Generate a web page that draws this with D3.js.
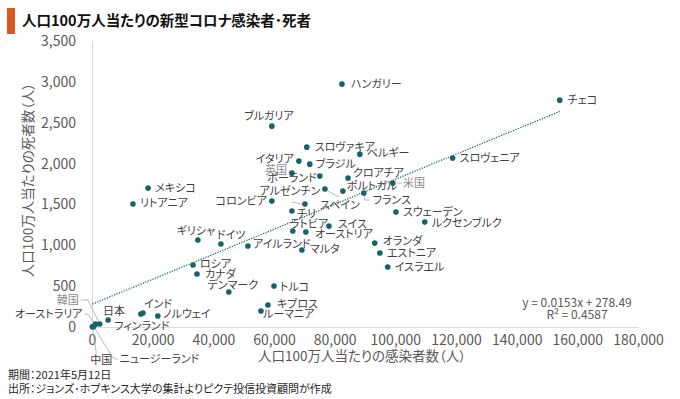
<!DOCTYPE html>
<html lang="ja">
<head>
<meta charset="UTF-8">
<title>人口100万人当たりの新型コロナ感染者・死者</title>
<script src="https://cdn.jsdelivr.net/npm/d3@7"></script>
<style>
	body { margin: 0; background: #fff; }
	svg { font-family: "Noto Sans CJK JP", sans-serif; font-feature-settings: "palt" 1; }
	.axis path { stroke: #d9d9d9; }
	.axis text { fill: #595959; font-size: 14px; font-family: "Noto Sans CJK JP", sans-serif; }
	.lbl { font-size: 11px; fill: #404040; }
	.lbl.grey { fill: #8c8c8c; }
	.leader { stroke: #a6a6a6; fill: none; stroke-width: 0.8; }
</style>
</head>
<body>
<div id="chart"></div>
<script>
	const width = 680,
		height = 399;

	const countries = ['チェコ', 'ハンガリー', 'ブルガリア', 'スロヴァキア', 'ベルギー', 'イタリア', 'ブラジル',
		'スロヴェニア', '英国', 'ポーランド', 'クロアチア', '米国', 'スペイン', 'ポルトガル', 'フランス',
		'アルゼンチン', 'コロンビア', 'チリ', 'スウェーデン', 'ルクセンブルク', 'スイス', 'ラトビア',
		'オーストリア', 'アイルランド', 'マルタ', 'ドイツ', 'ギリシャ', 'オランダ', 'エストニア', 'イスラエル',
		'メキシコ', 'リトアニア', 'ロシア', 'カナダ', 'デンマーク', 'トルコ', 'キプロス', 'ルーマニア',
		'インド', 'フィンランド', 'ノルウェイ', '日本', '韓国', 'オーストラリア', '中国', 'ニュージーランド'];
	// 人口100万人当たりの感染者数
	const infected = [154200, 82400, 59300, 70800, 88300, 68200, 71800,
		118900, 65900, 75100, 84400, 99200, 76800, 82700, 89600,
		70200, 59300, 65900, 100200, 109700, 78100, 66200,
		70500, 51400, 69200, 42500, 34900, 93200, 94900, 97500,
		18500, 13500, 33300, 34600, 45100, 60000, 58000, 55700,
		16800, 16100, 21700, 5300, 2550, 1150, 100, 550];
	// 人口100万人当たりの死者数
	const deaths = [2776, 2972, 2458, 2201, 2115, 2030, 1993,
		2067, 1883, 1847, 1822, 1761, 1688, 1663, 1639,
		1504, 1541, 1419, 1406, 1284, 1235, 1174,
		1162, 991, 942, 1015, 1064, 1027, 905, 734,
		1700, 1504, 758, 648, 428, 501, 269, 196,
		171, 159, 135, 86, 37, 35, 3, 5];

	const xTicks = [0, 20000, 40000, 60000, 80000, 100000, 120000, 140000, 160000, 180000];
	const yTicks = [0, 500, 1000, 1500, 2000, 2500, 3000, 3500];
	const slope = 0.0153,
		intercept = 278.49,
		r2 = 0.4587;

	// label placement relative to the dot: [dx, dy, anchor]
	const labelAt = {
		'チェコ': [8, 0, 'start'], 'ハンガリー': [9, 0, 'start'], 'ブルガリア': [-3, -10, 'middle'],
		'スロヴァキア': [8, 0, 'start'], 'ベルギー': [7, -1, 'start'], 'イタリア': [-5, -2, 'end'],
		'ブラジル': [6, 0, 'start'], 'スロヴェニア': [7, 0, 'start'], '英国': [-5, -3, 'end'],
		'ポーランド': [-3, 2, 'end'], 'クロアチア': [5, -5, 'start'], '米国': [10, 0, 'start'],
		'スペイン': [15, 16, 'middle'], 'ポルトガル': [4, -5, 'start'], 'フランス': [9, 7, 'start'],
		'アルゼンチン': [-15, -13, 'middle'], 'コロンビア': [-5, 0, 'end'], 'チリ': [5, 3, 'start'],
		'スウェーデン': [7, 0, 'start'], 'ルクセンブルク': [7, 1, 'start'], 'スイス': [9, -2, 'start'],
		'ラトビア': [-3, -7, 'start'], 'オーストリア': [9, 2, 'start'], 'アイルランド': [5, -2, 'start'],
		'マルタ': [8, -1, 'start'], 'ドイツ': [-4, -9, 'start'], 'ギリシャ': [-2, -9, 'middle'],
		'オランダ': [8, -2, 'start'], 'エストニア': [7, 0, 'start'], 'イスラエル': [7, 0, 'start'],
		'メキシコ': [7, 0, 'start'], 'リトアニア': [7, -1, 'start'], 'ロシア': [7, -1, 'start'],
		'カナダ': [8, 0, 'start'], 'デンマーク': [4, -7, 'middle'], 'トルコ': [6, 1, 'start'],
		'キプロス': [9, -1, 'start'], 'ルーマニア': [2, 3, 'start'], 'インド': [1, -9, 'start'],
		'フィンランド': [1, 12, 'middle'], 'ノルウェイ': [5, -2, 'start'], '日本': [-5, -9, 'start'],
		'韓国': [-21, -24, 'end'], 'オーストラリア': [-13, -10, 'end'], '中国': [-2, 33, 'start'],
		'ニュージーランド': [26, 33, 'start']
	};
	// leader lines, relative to the dot
	const leaders = {
		'米国': [[4, 0], [9, 0]],
		'フランス': [[1, 3], [1, 7], [6, 7]],
		'スペイン': [[3, 2], [14, 8]],
		'アルゼンチン': [[-3, 0], [-13, -2]],
		'韓国': [[0, 0], [-12, -24], [-19, -24]],
		'オーストラリア': [[0, 0], [-8, -10], [-11, -10]],
		'中国': [[0, 0], [4, 26]],
		'ニュージーランド': [[0, 0], [19, 31], [24, 33]]
	};
	const greyLabels = ['英国', '米国', '韓国'];

	const data = countries.map((c, i) => ({ name: c, x: infected[i], y: deaths[i] }));

	const x = d3.scaleLinear()
		.domain([0, 180000])
		.range([92, 638]);
	const y = d3.scaleLinear()
		.domain([0, 3500])
		.range([327, 41]);

	const svg = d3.select('#chart')
		.append('svg')
		.attr('width', width)
		.attr('height', height);

	svg.append('rect')
		.attr('width', width)
		.attr('height', height)
		.attr('fill', '#fff');

	// title
	svg.append('rect')
		.attr('x', 7)
		.attr('y', 8)
		.attr('width', 8)
		.attr('height', 26)
		.attr('fill', '#d95a1e');
	svg.append('text')
		.attr('x', 22)
		.attr('y', 26)
		.attr('font-size', 14.5)
		.attr('font-weight', 'bold')
		.attr('fill', '#111')
		.text('人口100万人当たりの新型コロナ感染者･死者');

	// axes
	const fmt = d3.format(',');
	svg.append('g')
		.attr('class', 'axis')
		.attr('transform', 'translate(92,0)')
		.call(d3.axisLeft(y).tickValues(yTicks).tickSize(0).tickPadding(16).tickFormat(fmt));
	svg.append('g')
		.attr('class', 'axis')
		.attr('transform', 'translate(0,327)')
		.call(d3.axisBottom(x).tickValues(xTicks).tickSize(0).tickPadding(8).tickFormat(fmt));

	svg.append('text')
		.attr('transform', 'translate(28,180) rotate(-90)')
		.attr('text-anchor', 'middle')
		.attr('dy', '0.35em')
		.attr('font-size', 13.5)
		.attr('fill', '#595959')
		.text('人口100万人当たりの死者数（人）');
	svg.append('text')
		.attr('x', 362)
		.attr('y', 356)
		.attr('text-anchor', 'middle')
		.attr('dy', '0.35em')
		.attr('font-size', 13.5)
		.attr('fill', '#595959')
		.text('人口100万人当たりの感染者数（人）');

	// trend line
	const xr = d3.extent(infected);
	svg.append('line')
		.attr('x1', x(xr[0]))
		.attr('y1', y(slope * xr[0] + intercept))
		.attr('x2', x(xr[1]))
		.attr('y2', y(slope * xr[1] + intercept))
		.attr('stroke', '#1f6f74')
		.attr('stroke-width', 1.3)
		.attr('stroke-dasharray', '1.3,1.3');

	// leader lines
	svg.append('g')
		.selectAll('polyline')
		.data(data.filter(d => leaders[d.name]))
		.join('polyline')
		.attr('class', 'leader')
		.attr('points', d => leaders[d.name].map(p => [x(d.x) + p[0], y(d.y) + p[1]].join(',')).join(' '));

	// dots
	svg.append('g')
		.selectAll('circle')
		.data(data)
		.join('circle')
		.attr('cx', d => x(d.x))
		.attr('cy', d => y(d.y))
		.attr('r', 2.8)
		.attr('fill', '#15646b');

	// labels
	svg.append('g')
		.selectAll('text')
		.data(data)
		.join('text')
		.attr('class', d => greyLabels.indexOf(d.name) > -1 ? 'lbl grey' : 'lbl')
		.attr('x', d => x(d.x) + labelAt[d.name][0])
		.attr('y', d => y(d.y) + labelAt[d.name][1])
		.attr('dy', '0.35em')
		.attr('text-anchor', d => labelAt[d.name][2])
		.text(d => d.name);

	// regression equation
	svg.append('text')
		.attr('x', 577)
		.attr('y', 303)
		.attr('text-anchor', 'middle')
		.attr('dy', '0.35em')
		.attr('font-size', 12)
		.attr('fill', '#595959')
		.text(`y = ${slope}x + ${intercept}`);
	svg.append('text')
		.attr('x', 577)
		.attr('y', 315)
		.attr('text-anchor', 'middle')
		.attr('dy', '0.35em')
		.attr('font-size', 12)
		.attr('fill', '#595959')
		.text(`R² = ${r2}`);

	// notes
	svg.append('text')
		.attr('x', 8)
		.attr('y', 379)
		.attr('font-size', 11)
		.attr('fill', '#262626')
		.text('期間：2021年5月12日');
	svg.append('text')
		.attr('x', 8)
		.attr('y', 393)
		.attr('font-size', 11)
		.attr('fill', '#262626')
		.text('出所：ジョンズ･ホプキンス大学の集計よりピクテ投信投資顧問が作成');
</script>
</body>
</html>
